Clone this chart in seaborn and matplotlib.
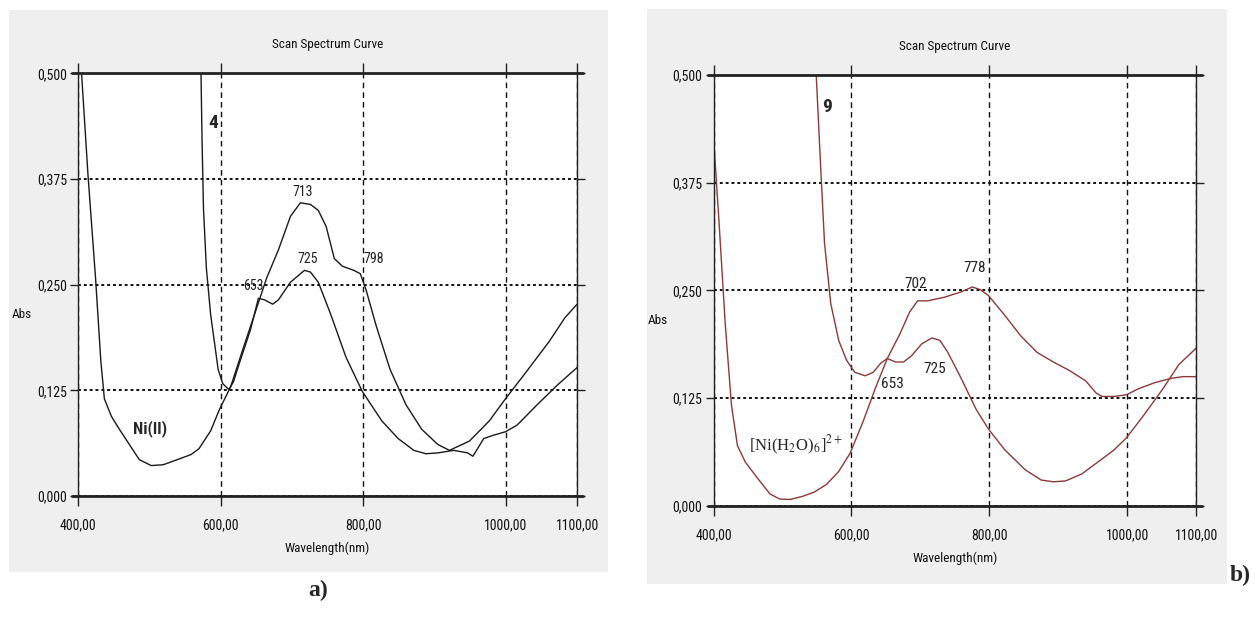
import numpy as np
import pandas as pd
import seaborn as sns
import matplotlib
matplotlib.use("Agg")
import matplotlib.pyplot as plt
from matplotlib.patches import Rectangle
from matplotlib.ticker import FuncFormatter

# ---- data ----
# panel a: compound 4
wl_4 = [572.5, 574, 576, 580, 586, 592, 596.5, 603, 611.5, 618, 625.5, 642, 653, 662, 673, 681, 698,
        717.6, 726, 737, 754, 776, 798.6, 826, 849, 871, 888, 904.6, 927, 946.5, 953.8, 960.4,
        969, 983, 999.5, 1016, 1044, 1072, 1100]
abs_4 = [0.500, 0.420, 0.340, 0.270, 0.215, 0.178, 0.150, 0.133, 0.126, 0.135, 0.155, 0.197, 0.234,
         0.232, 0.227, 0.232, 0.253, 0.267, 0.265, 0.253, 0.216, 0.164, 0.124, 0.089, 0.068,
         0.054, 0.050, 0.051, 0.054, 0.051, 0.047, 0.056, 0.068, 0.072, 0.076, 0.084, 0.108,
         0.131, 0.152]

# panel a: Ni(II)
wl_ni = [405, 414, 424.6, 432, 437, 447, 458, 472, 486, 502.7, 519.5, 536, 558.5, 569.7, 586, 598.7,
         614, 631, 648, 664.6, 681, 698, 712, 726, 737, 748, 759.5, 770.6, 787, 796, 804, 818,
         837.6, 860, 882, 904.6, 921, 949, 977, 999.5, 1027, 1061, 1083, 1100]
abs_ni = [0.500, 0.380, 0.258, 0.160, 0.115, 0.094, 0.079, 0.061, 0.043, 0.036, 0.037, 0.042,
          0.049, 0.056, 0.077, 0.103, 0.129, 0.173, 0.216, 0.258, 0.291, 0.331, 0.347, 0.345,
          0.338, 0.319, 0.281, 0.272, 0.267, 0.263, 0.244, 0.202, 0.150, 0.108, 0.079, 0.061,
          0.054, 0.065, 0.089, 0.115, 0.145, 0.183, 0.211, 0.227]

# panel b: compound 9
wl_9 = [549, 555, 561, 570, 581.6, 593, 605, 620, 631.6, 643, 652, 664, 675.6, 687, 702, 717,
        728.5, 740, 758, 781, 799, 822.6, 852, 875.5, 893, 910.7, 934, 957.7, 981, 999, 1022,
        1052, 1075, 1100]
abs_9 = [0.500, 0.400, 0.305, 0.235, 0.192, 0.169, 0.155, 0.151, 0.155, 0.166, 0.171, 0.167,
         0.167, 0.174, 0.188, 0.195, 0.192, 0.178, 0.150, 0.112, 0.089, 0.065, 0.042, 0.030,
         0.028, 0.029, 0.037, 0.051, 0.065, 0.079, 0.103, 0.136, 0.164, 0.183]

# panel b: [Ni(H2O)6]2+
wl_aq = [400, 408, 417, 426, 434.7, 446, 464, 481.7, 496, 511, 528.7, 546, 564, 581.6, 598,
         617, 634.5, 652, 670, 684.5, 696, 711, 734, 758, 775.5, 787, 799, 822.6, 846, 869.6,
         893, 916.6, 940, 955, 963.6, 981, 999, 1016.5, 1040, 1063.5, 1081, 1100]
abs_aq = [0.428, 0.329, 0.211, 0.117, 0.070, 0.051, 0.032, 0.014, 0.008, 0.0075, 0.011, 0.016,
          0.025, 0.040, 0.061, 0.098, 0.136, 0.171, 0.199, 0.225, 0.238, 0.238, 0.242, 0.248,
          0.254, 0.251, 0.244, 0.221, 0.197, 0.178, 0.167, 0.157, 0.145, 0.131, 0.127, 0.127,
          0.129, 0.136, 0.143, 0.148, 0.150, 0.150]

x_ticks = [400, 600, 800, 1000, 1100]
y_ticks = [0, 0.125, 0.25, 0.375, 0.5]

peaks_a = [("713", 715, 0.360), ("725", 721.5, 0.281), ("653", 646, 0.248), ("798", 815, 0.281)]
peaks_b = [("702", 693, 0.258), ("778", 778.5, 0.276), ("653", 659, 0.141), ("725", 721.5, 0.159)]

sns.set_style("white")
narrow = ["Roboto Condensed", "Archivo Narrow", "PT Sans Narrow", "Liberation Sans", "DejaVu Sans"]
serif = ["Liberation Serif", "DejaVu Serif"]
plt.rcParams["font.family"] = narrow

fig = plt.figure(figsize=(12.54, 6.2), dpi=100)

# grey window backgrounds
fig.patches.append(Rectangle((0.0072, 0.0774), 0.4777, 0.906, transform=fig.transFigure,
                             facecolor="#efefef", edgecolor="none", zorder=-10))
fig.patches.append(Rectangle((0.516, 0.058), 0.4625, 0.927, transform=fig.transFigure,
                             facecolor="#efefef", edgecolor="none", zorder=-10))

ax_a = fig.add_axes([0.0622, 0.200, 0.398, 0.6815])
ax_b = fig.add_axes([0.569, 0.184, 0.3848, 0.695])


def style_axes(ax, abs_x):
    ax.set_xlim(400, 1100)
    ax.set_ylim(0, 0.5)
    ax.set_facecolor("white")
    ax.set_xticks(x_ticks)
    ax.set_yticks(y_ticks)
    ax.xaxis.set_major_formatter(FuncFormatter(lambda v, p: f"{v:.2f}".replace(".", ",")))
    ax.yaxis.set_major_formatter(FuncFormatter(lambda v, p: f"{v:.3f}".replace(".", ",")))
    ax.tick_params(axis="x", direction="out", length=7, width=1, color="#222222",
                   labelsize=10, pad=9, top=True, bottom=True, labelcolor="#111111")
    ax.tick_params(axis="y", direction="out", length=6, width=1, color="#222222",
                   labelsize=10, pad=2, left=True, right=True, labelcolor="#111111")
    ax.xaxis.grid(True, color="#111111", linestyle=(0, (4, 3)), linewidth=1.0)
    ax.yaxis.grid(True, color="#111111", linestyle=(0, (1.5, 1.5)), linewidth=1.4)
    ax.set_axisbelow(True)
    for side in ["left", "right"]:
        ax.spines[side].set_color("#222222")
        ax.spines[side].set_linewidth(1.0)
    for side in ["top", "bottom"]:
        ax.spines[side].set_visible(False)
    ax.axhline(0.5, xmin=-0.012, xmax=1.012, color="#222222", lw=2.0, clip_on=False, zorder=3)
    ax.axhline(0.0, xmin=-0.012, xmax=1.012, color="#222222", lw=2.0, clip_on=False, zorder=3)
    ax.set_title("Scan Spectrum Curve", fontsize=9.5, pad=18, color="#111111")
    ax.set_xlabel("Wavelength(nm)", fontsize=9.5, labelpad=7, color="#111111")
    ax.set_ylabel("Abs", fontsize=9.5, rotation=0, va="center", ha="center", color="#111111")
    ax.yaxis.set_label_coords(abs_x, 0.43)


style_axes(ax_a, -0.112)
style_axes(ax_b, -0.115)

# panel a curves
sns.lineplot(x=wl_4, y=abs_4, ax=ax_a, color="#1a1a1a", lw=1.0, sort=False)
sns.lineplot(x=wl_ni, y=abs_ni, ax=ax_a, color="#1a1a1a", lw=1.0, sort=False)
for txt, px, py in peaks_a:
    ax_a.text(px, py, txt, fontsize=10, ha="center", va="center", color="#222222")
ax_a.text(589, 0.441, "4", fontsize=14, fontweight="bold", ha="center", va="center")
ax_a.text(501.6, 0.080, "Ni(II)", fontsize=12, fontweight="bold", ha="center", va="center")

# panel b curves
red = "#8b3a3a"
sns.lineplot(x=wl_9, y=abs_9, ax=ax_b, color=red, lw=1.0, sort=False)
sns.lineplot(x=wl_aq, y=abs_aq, ax=ax_b, color=red, lw=1.0, sort=False)
for txt, px, py in peaks_b:
    ax_b.text(px, py, txt, fontsize=11, ha="center", va="center", color="#222222")
ax_b.text(564, 0.463, "9", fontsize=14, fontweight="bold", ha="center", va="center")
ax_b.text(520, 0.070, r"[Ni(H$_2$O)$_6$]$^{2+}$", fontsize=12, ha="center", va="center",
          family=serif, math_fontfamily="stix")

# panel labels
fig.text(318 / 1254, 1 - 590 / 620, "a)", fontsize=17, fontweight="bold", ha="center",
         va="center", family=serif)
fig.text(1240 / 1254, 1 - 575 / 620, "b)", fontsize=17, fontweight="bold", ha="center",
         va="center", family=serif)

fig.savefig("out.png", dpi=100, facecolor="white")
